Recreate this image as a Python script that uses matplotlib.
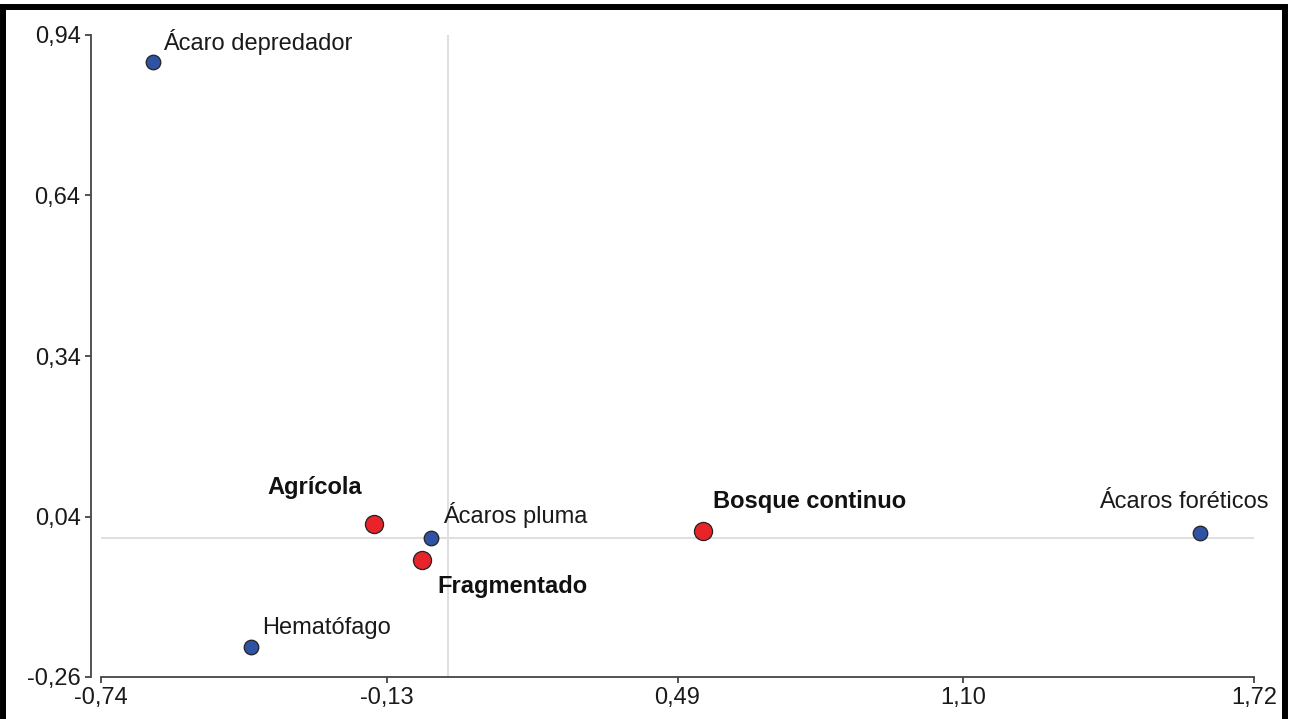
import matplotlib
matplotlib.use('Agg')
import matplotlib.pyplot as plt
from matplotlib.patches import Rectangle

# Data (correspondence analysis biplot)
species = ['Ácaro depredador', 'Hematófago', 'Ácaros pluma', 'Ácaros foréticos']
species_x = [-0.629, -0.420, -0.036, 1.605]
species_y = [0.889, -0.204, 0.000, 0.010]

habitats = ['Agrícola', 'Fragmentado', 'Bosque continuo']
habitat_x = [-0.158, -0.055, 0.545]
habitat_y = [0.026, -0.041, 0.013]

xticks = [-0.74, -0.13, 0.49, 1.10, 1.72]
yticks = [-0.26, 0.04, 0.34, 0.64, 0.94]

plt.rcParams['font.family'] = ['Liberation Sans', 'DejaVu Sans']

W, H = 1293, 719
fig = plt.figure(figsize=(W / 100, H / 100), dpi=100)
ax = fig.add_axes([101 / W, (H - 677) / H, 1153 / W, 642 / H])

# zero reference lines
ax.axhline(0, color='#dcdcdc', lw=1.3, zorder=1)
ax.axvline(0, color='#dcdcdc', lw=1.3, zorder=1)

ax.scatter(species_x, species_y, s=110, color='#2f52a3', edgecolor='#222222',
           linewidth=0.9, zorder=3)
ax.scatter(habitat_x, habitat_y, s=170, color='#e8232a', edgecolor='#222222',
           linewidth=0.9, zorder=3)

# label offsets in pixels (dx, dy, ha)
sp_off = [(10, 12, 'left'), (11, 13, 'left'), (12, 15, 'left'), (68, 25, 'right')]
hb_off = [(-12, 30, 'right'), (15, -33, 'left'), (10, 23, 'left')]

fs = 17
for name, x, y, (dx, dy, ha) in zip(species, species_x, species_y, sp_off):
    ax.annotate(name, (x, y), xytext=(dx * 0.72, dy * 0.72), textcoords='offset points',
                ha=ha, va='baseline', fontsize=fs, color='#1a1a1a')
for name, x, y, (dx, dy, ha) in zip(habitats, habitat_x, habitat_y, hb_off):
    ax.annotate(name, (x, y), xytext=(dx * 0.72, dy * 0.72), textcoords='offset points',
                ha=ha, va='baseline', fontsize=fs, fontweight='bold', color='#111111')

ax.set_xlim(-0.74, 1.72)
ax.set_ylim(-0.26, 0.94)
ax.set_xticks(xticks)
ax.set_xticklabels([f'{v:.2f}'.replace('.', ',') for v in xticks])
ax.set_yticks(yticks)
ax.set_yticklabels([f'{v:.2f}'.replace('.', ',') for v in yticks])

for s in ['top', 'right']:
    ax.spines[s].set_visible(False)
ax.spines['left'].set_position(('outward', 7.2))
for s in ['left', 'bottom']:
    ax.spines[s].set_color('#444444')
    ax.spines[s].set_linewidth(1.3)
ax.tick_params(length=4.5, width=1.3, color='#444444', labelsize=fs,
               labelcolor='#1a1a1a', pad=3)

# black frame around the picture
fig.patches.append(Rectangle((3 / W, -0.05), 1282 / W, 1 - 6.5 / H + 0.05,
                             transform=fig.transFigure, fill=False,
                             edgecolor='black', linewidth=4.3))

fig.savefig('out.png', dpi=100)
